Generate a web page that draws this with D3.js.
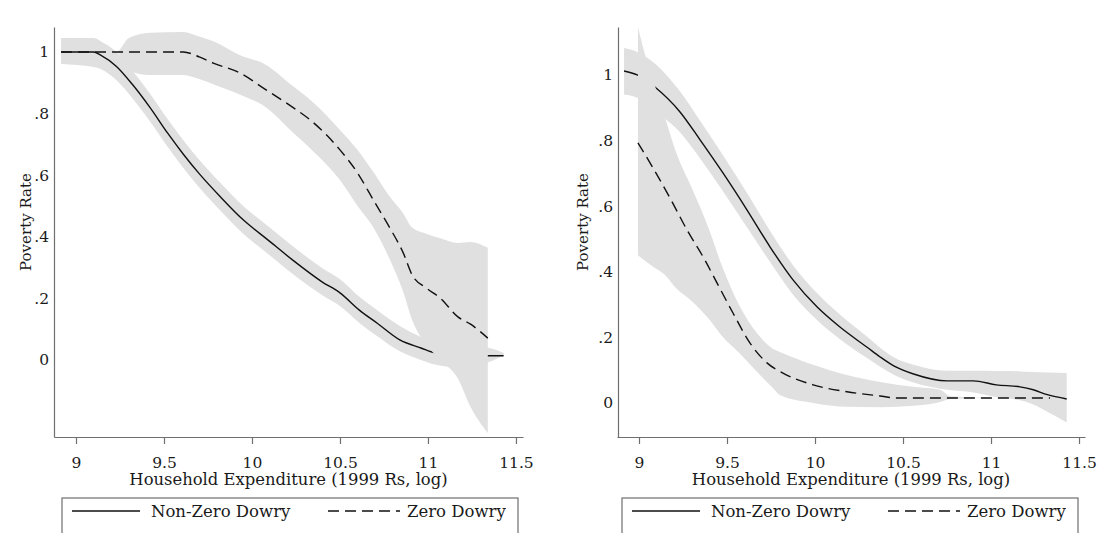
<!DOCTYPE html>
<html>
<head>
<meta charset="utf-8">
<script src="https://cdn.jsdelivr.net/npm/d3@7"></script>
<style>
  html, body { margin: 0; padding: 0; background: #ffffff; }
  svg { display: block; }
  text { font-family: "DejaVu Serif", "Liberation Serif", serif; fill: #1a1a1a; }
</style>
</head>
<body>
<svg id="chart" width="1097" height="533"></svg>
<script>
// ---- shared labels ----
const seriesNames = ["Non-Zero Dowry", "Zero Dowry"];
const xTicks = [9, 9.5, 10, 10.5, 11, 11.5];
const xTickLabels = ["9", "9.5", "10", "10.5", "11", "11.5"];
const yTicks = [0, 0.2, 0.4, 0.6, 0.8, 1];
const yTickLabels = ["0", ".2", ".4", ".6", ".8", "1"];
const xTitle = "Household Expenditure (1999 Rs, log)";
const yTitle = "Poverty Rate";

// ---- left panel: local polynomial fits with confidence bands ----
const leftNzX   = [8.915, 9.10, 9.14, 9.23, 9.32, 9.42, 9.52, 9.61, 9.70, 9.82, 9.95, 10.09, 10.23, 10.40, 10.50, 10.61, 10.71, 10.84, 10.96, 11.04, 11.15, 11.25, 11.35, 11.43];
const leftNzMid = [1.00, 1.00, 0.99, 0.953, 0.895, 0.82, 0.737, 0.668, 0.605, 0.53, 0.455, 0.390, 0.325, 0.253, 0.218, 0.162, 0.120, 0.065, 0.039, 0.023, 0.018, 0.015, 0.014, 0.014];
const leftNzHi  = [1.045, 1.045, 1.035, 1.0, 0.94, 0.865, 0.782, 0.713, 0.65, 0.575, 0.50, 0.435, 0.37, 0.298, 0.262, 0.205, 0.162, 0.11, 0.075, 0.060, 0.05, 0.045, 0.039, 0.023];
const leftNzLo  = [0.961, 0.951, 0.945, 0.908, 0.85, 0.775, 0.692, 0.623, 0.56, 0.485, 0.41, 0.345, 0.28, 0.21, 0.175, 0.12, 0.078, 0.028, 0.0, -0.015, -0.023, -0.015, -0.006, 0.016];

const leftZX   = [8.915, 9.10, 9.23, 9.30, 9.42, 9.61, 9.70, 9.78, 9.93, 10.08, 10.23, 10.34, 10.50, 10.60, 10.69, 10.78, 10.86, 10.91, 10.99, 11.07, 11.17, 11.24, 11.34];
const leftZMid = [1.00, 1.00, 1.00, 1.00, 1.00, 1.00, 0.984, 0.964, 0.932, 0.877, 0.821, 0.775, 0.682, 0.607, 0.519, 0.432, 0.347, 0.276, 0.234, 0.201, 0.140, 0.117, 0.071];
const leftZHi  = [1.00, 1.00, 1.00, 1.045, 1.062, 1.065, 1.05, 1.035, 0.99, 0.958, 0.89, 0.84, 0.747, 0.682, 0.61, 0.532, 0.475, 0.43, 0.41, 0.395, 0.38, 0.383, 0.364];
const leftZLo  = [1.00, 1.00, 1.00, 0.94, 0.925, 0.925, 0.912, 0.895, 0.862, 0.82, 0.74, 0.682, 0.584, 0.50, 0.43, 0.33, 0.22, 0.13, 0.05, 0.0, -0.06, -0.15, -0.237];

// ---- right panel ----
const rightNzX   = [8.915, 8.99, 9.09, 9.233, 9.347, 9.477, 9.614, 9.744, 9.875, 10.011, 10.14, 10.30, 10.37, 10.45, 10.56, 10.75, 10.90, 11.03, 11.165, 11.24, 11.32, 11.43];
const rightNzMid = [1.012, 1.0, 0.963, 0.887, 0.802, 0.701, 0.588, 0.476, 0.375, 0.293, 0.232, 0.168, 0.14, 0.112, 0.088, 0.067, 0.067, 0.055, 0.049, 0.04, 0.025, 0.012];
const rightNzHi  = [1.082, 1.07, 1.035, 0.95, 0.86, 0.755, 0.64, 0.525, 0.42, 0.335, 0.27, 0.2, 0.168, 0.138, 0.116, 0.098, 0.098, 0.097, 0.096, 0.094, 0.093, 0.091];
const rightNzLo  = [0.94, 0.93, 0.89, 0.825, 0.745, 0.645, 0.535, 0.43, 0.33, 0.253, 0.195, 0.135, 0.11, 0.085, 0.062, 0.04, 0.032, 0.018, 0.008, -0.005, -0.027, -0.06];

const rightZX   = [8.994, 9.08, 9.176, 9.273, 9.375, 9.443, 9.534, 9.63, 9.727, 9.818, 9.989, 10.182, 10.369, 10.466, 10.75, 11.0, 11.335];
const rightZMid = [0.793, 0.716, 0.625, 0.527, 0.435, 0.366, 0.274, 0.183, 0.122, 0.091, 0.055, 0.034, 0.021, 0.015, 0.015, 0.015, 0.015];
const rightZBandX = [8.994, 9.03, 9.08, 9.148, 9.21, 9.30, 9.39, 9.47, 9.574, 9.67, 9.76, 9.80, 9.99, 10.18, 10.37, 10.56, 10.71, 10.77, 11.0, 11.335];
const rightZHi    = [1.146, 1.07, 0.985, 0.869, 0.765, 0.655, 0.54, 0.42, 0.293, 0.213, 0.165, 0.155, 0.116, 0.085, 0.064, 0.049, 0.04, 0.02, 0.015, 0.015];
const rightZLo    = [0.45, 0.435, 0.415, 0.39, 0.35, 0.31, 0.26, 0.205, 0.15, 0.095, 0.046, 0.024, 0.0, -0.012, -0.013, -0.009, 0.003, 0.012, 0.015, 0.015];

// ---- styling ----
const bandFill = "#e0e0e0";
const axisColor = "#6f6f6f";
const lineColor = "#111111";
const dashPattern = "11,6";

const zip = (xs, ...cols) => xs.map((x, i) => ({ x, v: cols.map(c => c[i]) }));

const panels = [
  {
    xDomain: [8.875, 11.54], xRange: [54, 523], yAxisX: 54,
    yDomain: [-0.25, 1.081], yRange: [437, 27],
    yTitleX: 26, legendX: 62,
    nz: { band: zip(leftNzX, leftNzLo, leftNzHi), line: zip(leftNzX, leftNzMid) },
    z:  { band: zip(leftZX, leftZLo, leftZHi),   line: zip(leftZX, leftZMid) }
  },
  {
    xDomain: [8.875, 11.534], xRange: [617, 1085], yAxisX: 618,
    yDomain: [-0.104, 1.146], yRange: [437, 27],
    yTitleX: 583, legendX: 622,
    nz: { band: zip(rightNzX, rightNzLo, rightNzHi), line: zip(rightNzX, rightNzMid) },
    z:  { band: zip(rightZBandX, rightZLo, rightZHi), line: zip(rightZX, rightZMid) }
  }
];

const svg = d3.select("#chart");

panels.forEach(p => {
  const x = d3.scaleLinear().domain(p.xDomain).range(p.xRange);
  const y = d3.scaleLinear().domain(p.yDomain).range(p.yRange);
  const g = svg.append("g");

  const area = d3.area()
    .x(d => x(d.x)).y0(d => y(d.v[0])).y1(d => y(d.v[1]))
    .curve(d3.curveMonotoneX);
  const line = d3.line()
    .x(d => x(d.x)).y(d => y(d.v[0]))
    .curve(d3.curveMonotoneX);

  // drawing order: band, fit, band, fit (each band sits over the earlier fit)
  [["nz", null], ["z", dashPattern]].forEach(([key, dash]) => {
    g.append("path").datum(p[key].band)
      .attr("d", area).attr("fill", bandFill).attr("stroke", "none");
    g.append("path").datum(p[key].line)
      .attr("d", line).attr("fill", "none")
      .attr("stroke", lineColor).attr("stroke-width", 1.4)
      .attr("stroke-dasharray", dash);
  });

  // x axis
  const xAxis = g.append("g")
    .attr("transform", `translate(0,${p.yRange[0]})`)
    .call(d3.axisBottom(x).tickValues(xTicks)
      .tickFormat((d, i) => xTickLabels[i])
      .tickSize(7).tickSizeOuter(0).tickPadding(13));
  xAxis.select(".domain").attr("stroke", axisColor).attr("stroke-width", 1.2);
  xAxis.selectAll(".tick line").attr("stroke", axisColor).attr("stroke-width", 1.2);
  xAxis.selectAll(".tick text")
    .style("font-family", '"DejaVu Serif", serif').style("font-size", "15.5px").attr("fill", "#1a1a1a");

  // y axis
  const yAxis = g.append("g")
    .attr("transform", `translate(${p.yAxisX},0)`)
    .call(d3.axisLeft(y).tickValues(yTicks)
      .tickFormat((d, i) => yTickLabels[i])
      .tickSize(0).tickSizeOuter(0).tickPadding(5));
  yAxis.select(".domain").attr("stroke", axisColor).attr("stroke-width", 1.2);
  yAxis.selectAll(".tick text")
    .style("font-family", '"DejaVu Serif", serif').style("font-size", "15.5px").attr("fill", "#1a1a1a");

  // axis titles
  const xMid = (p.xRange[0] + p.xRange[1]) / 2;
  g.append("text")
    .attr("x", xMid).attr("y", 485)
    .attr("text-anchor", "middle")
    .style("font-size", "16.4px")
    .text(xTitle);
  g.append("text")
    .attr("transform", `translate(${p.yTitleX},222) rotate(-90)`)
    .attr("text-anchor", "middle").attr("dy", "0.35em")
    .style("font-size", "15px")
    .text(yTitle);

  // legend
  const lg = g.append("g").attr("transform", `translate(${p.legendX},498)`);
  lg.append("rect")
    .attr("x", 0).attr("y", 0).attr("width", 456).attr("height", 50)
    .attr("fill", "none").attr("stroke", axisColor).attr("stroke-width", 1.2);
  const entries = [
    { name: seriesNames[0], dash: null, x0: 10, x1: 78, tx: 89 },
    { name: seriesNames[1], dash: dashPattern, x0: 266, x1: 338, tx: 345 }
  ];
  entries.forEach(e => {
    lg.append("line")
      .attr("x1", e.x0).attr("x2", e.x1).attr("y1", 13).attr("y2", 13)
      .attr("stroke", lineColor).attr("stroke-width", 1.4)
      .attr("stroke-dasharray", e.dash);
    lg.append("text")
      .attr("x", e.tx).attr("y", 19)
      .style("font-size", "16.5px")
      .text(e.name);
  });
});
</script>
</body>
</html>
